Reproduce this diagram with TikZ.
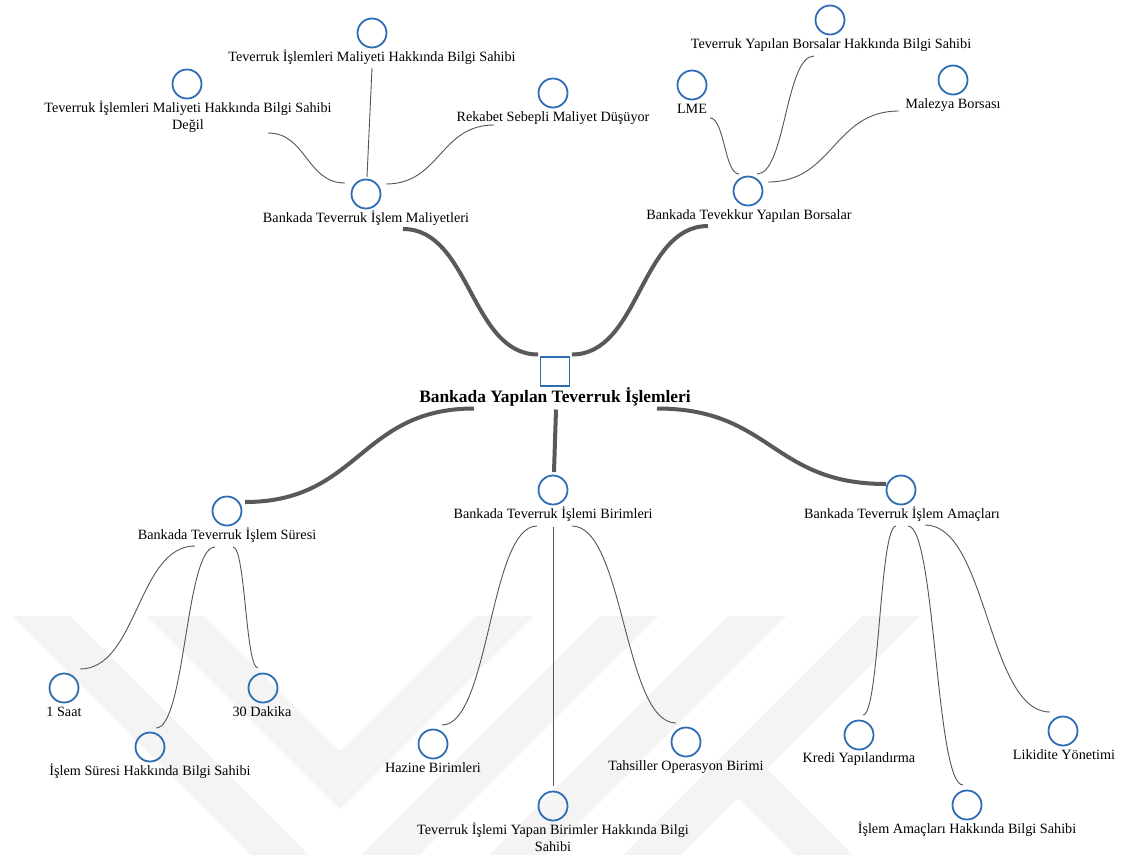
\documentclass[tikz,border=0pt]{standalone}
\usepackage{fontspec}
\setmainfont{Liberation Serif}
\usetikzlibrary{calc}
\definecolor{cblue}{HTML}{2E6DB4}
\definecolor{dgrey}{HTML}{595959}
\definecolor{lgrey}{HTML}{555555}
\definecolor{wm}{HTML}{F4F4F4}
\begin{document}
\begin{tikzpicture}[x=1pt,y=-1pt,
  cn/.style={circle,draw=cblue,line width=1.8pt,minimum size=29pt,inner sep=0pt},
  sq/.style={rectangle,draw=cblue,line width=1.8pt,minimum size=29pt,inner sep=0pt},
  lb/.style={font=\fontsize{14.2}{17}\selectfont,inner sep=0pt,anchor=base},
  rootlb/.style={font=\fontsize{17.4}{20}\selectfont\bfseries,inner sep=0pt,anchor=base},
  thinc/.style={draw=lgrey,line width=0.9pt},
  thickc/.style={draw=dgrey,line width=4pt},
  mm/.style={to path={let \p1=(\tikztostart),\p2=(\tikztotarget) in .. controls ({(\x1+\x2)/2},\y1) and ({(\x1+\x2)/2},\y2) .. (\tikztotarget)}},
  wmark/.style={fill=wm,draw=none}
]
\fill[white] (0,0) rectangle (1121,855);
\useasboundingbox (0,0) rectangle (1121,855);

% watermark
\fill[wmark] (12,616) -- (70,616) -- (309,855) -- (251,855) -- cycle;
\fill[wmark] (147,616) -- (205,616) -- (340,751) -- (475,616) -- (533,616) -- (340,809) -- cycle;
\fill[wmark] (600,616) -- (658,616) -- (419,855) -- (361,855) -- cycle;
\fill[wmark] (728,616) -- (786,616) -- (547,855) -- (489,855) -- cycle;
\fill[wmark] (862,616) -- (920,616) -- (681,855) -- (623,855) -- cycle;
\fill[wmark] (738,798) -- (767,769) -- (853,855) -- (795,855) -- cycle;

% root
\node[sq] (root) at (555,371.5) {};
\node[rootlb] (lroot) at (555,402) {Bankada Yapılan Teverruk İşlemleri};

% top-left group
\node[cn] (mal) at (366,194) {};
\node[lb] (lmal) at (366,222.5) {Bankada Teverruk İşlem Maliyetleri};
\node[cn] (mh) at (372,33) {};
\node[lb] (lmh) at (372,61.5) {Teverruk İşlemleri Maliyeti Hakkında Bilgi Sahibi};
\node[cn] (md) at (187,84) {};
\node[lb] (lmd) at (188,112.5) {\begin{tabular}[t]{@{}c@{}}Teverruk İşlemleri Maliyeti Hakkında Bilgi Sahibi\\Değil\end{tabular}};
\node[cn] (rek) at (553,93) {};
\node[lb] (lrek) at (553,121.5) {Rekabet Sebepli Maliyet Düşüyor};

% top-right group
\node[cn] (bor) at (748,191) {};
\node[lb] (lbor) at (749,219.5) {Bankada Tevekkur Yapılan Borsalar};
\node[cn] (lme) at (692,85) {};
\node[lb] (llme) at (692,113.5) {LME};
\node[cn] (bh) at (830,20) {};
\node[lb] (lbh) at (831,48.5) {Teverruk Yapılan Borsalar Hakkında Bilgi Sahibi};
\node[cn] (mlz) at (953,80) {};
\node[lb] (lmlz) at (953,108.5) {Malezya Borsası};

% bottom-left group
\node[cn] (sur) at (227,511) {};
\node[lb] (lsur) at (227,539) {Bankada Teverruk İşlem Süresi};
\node[cn] (one) at (64,688) {};
\node[lb] (lone) at (64,716) {1 Saat};
\node[cn] (thirty) at (263,688) {};
\node[lb] (lthirty) at (262,716) {30 Dakika};
\node[cn] (sb) at (150,747) {};
\node[lb] (lsb) at (150,775) {İşlem Süresi Hakkında Bilgi Sahibi};

% bottom-middle group
\node[cn] (bir) at (553,490) {};
\node[lb] (lbir) at (553,518) {Bankada Teverruk İşlemi Birimleri};
\node[cn] (haz) at (433,744) {};
\node[lb] (lhaz) at (433,772) {Hazine Birimleri};
\node[cn] (tah) at (686,742) {};
\node[lb] (ltah) at (686,770.5) {Tahsiller Operasyon Birimi};
\node[cn] (yb) at (553,806) {};
\node[lb] (lyb) at (553,834) {\begin{tabular}[t]{@{}c@{}}Teverruk İşlemi Yapan Birimler Hakkında Bilgi\\Sahibi\end{tabular}};

% bottom-right group
\node[cn] (ama) at (901,490) {};
\node[lb] (lama) at (902,518) {Bankada Teverruk İşlem Amaçları};
\node[cn] (kre) at (859,735) {};
\node[lb] (lkre) at (859,762) {Kredi Yapılandırma};
\node[cn] (lik) at (1063,731) {};
\node[lb] (llik) at (1064,759) {Likidite Yönetimi};
\node[cn] (iab) at (967,805) {};
\node[lb] (liab) at (967,833) {İşlem Amaçları Hakkında Bilgi Sahibi};

% thick main connectors
\draw[thickc] ([shift={(-17,-17)}]root.center) to[mm] ([shift={(37,35)}]mal.center);
\draw[thickc] ([shift={(17,-17)}]root.center) to[mm] ([shift={(-40,35)}]bor.center);
\draw[thickc] ([shift={(-81,37)}]root.center) to[mm] ([shift={(18,-9)}]sur.center);
\draw[thickc] ([shift={(1,38)}]root.center) -- ([shift={(1,-18)}]bir.center);
\draw[thickc] ([shift={(102,37)}]root.center) to[mm] ([shift={(-15,-6)}]ama.center);

% thin connectors
\draw[thinc] ([shift={(1,-17)}]mal.center) -- ([shift={(0,35)}]mh.center);
\draw[thinc] ([shift={(-21,-11)}]mal.center) to[mm] ([shift={(81,49)}]md.center);
\draw[thinc] ([shift={(20,-10)}]mal.center) to[mm] ([shift={(-59,32)}]rek.center);
\draw[thinc] ([shift={(-9,-17)}]bor.center) to[mm] ([shift={(18,33)}]lme.center);
\draw[thinc] ([shift={(9,-17)}]bor.center) to[mm] ([shift={(-16,36)}]bh.center);
\draw[thinc] ([shift={(20,-9)}]bor.center) to[mm] ([shift={(-54,31)}]mlz.center);
\draw[thinc] ([shift={(-32,35)}]sur.center) to[mm] ([shift={(16,-19)}]one.center);
\draw[thinc] ([shift={(-12,36)}]sur.center) to[mm] ([shift={(6,-19)}]sb.center);
\draw[thinc] ([shift={(6,36)}]sur.center) to[mm] ([shift={(-5,-20)}]thirty.center);
\draw[thinc] ([shift={(-16,36)}]bir.center) to[mm] ([shift={(9,-19)}]haz.center);
\draw[thinc] ([shift={(0,37)}]bir.center) -- ([shift={(0,-20)}]yb.center);
\draw[thinc] ([shift={(19,36)}]bir.center) to[mm] ([shift={(-10,-19)}]tah.center);
\draw[thinc] ([shift={(-5,36)}]ama.center) to[mm] ([shift={(4,-20)}]kre.center);
\draw[thinc] ([shift={(7,36)}]ama.center) to[mm] ([shift={(-4,-20)}]iab.center);
\draw[thinc] ([shift={(24,35)}]ama.center) to[mm] ([shift={(-13,-19)}]lik.center);
\end{tikzpicture}
\end{document}
